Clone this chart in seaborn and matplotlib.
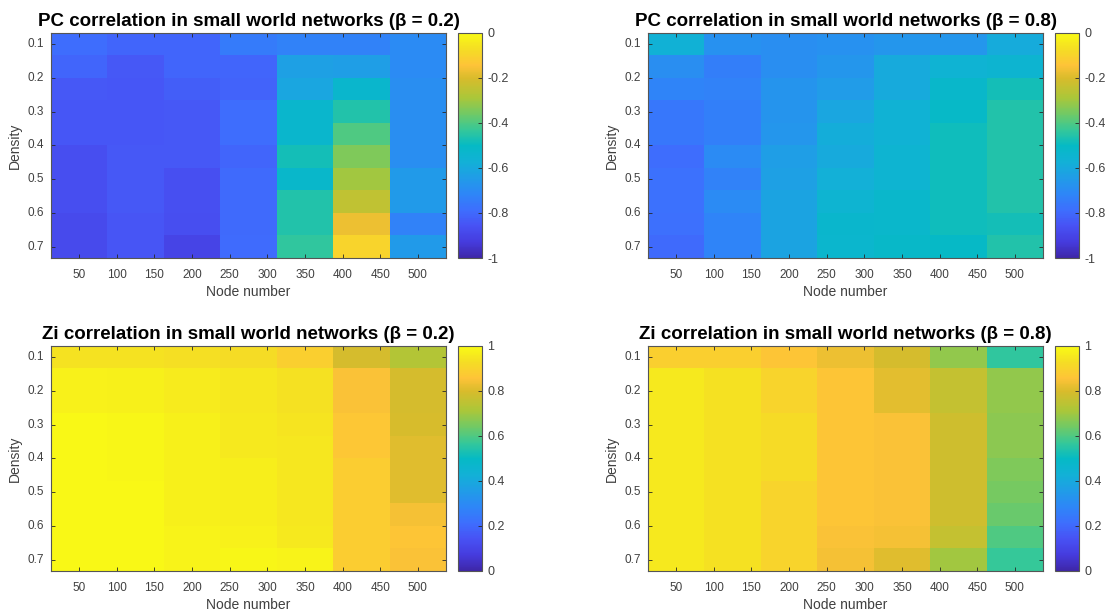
import numpy as np
import pandas as pd
import matplotlib
matplotlib.use('Agg')
import matplotlib.pyplot as plt
import seaborn as sns
from matplotlib.colors import LinearSegmentedColormap

nodes = [50, 125, 200, 275, 350, 425, 500]
density = [0.1, 0.1667, 0.2333, 0.3, 0.3667, 0.4333, 0.5, 0.5667, 0.6333, 0.7]
node_ticks = [50, 100, 150, 200, 250, 300, 350, 400, 450, 500]
density_ticks = [0.1, 0.2, 0.3, 0.4, 0.5, 0.6, 0.7]

# rows = density (0.1 -> 0.7), columns = node number
pc_b02 = [
    [-0.79, -0.81, -0.81, -0.75, -0.73, -0.73, -0.70],
    [-0.81, -0.84, -0.81, -0.81, -0.63, -0.64, -0.70],
    [-0.84, -0.845, -0.825, -0.815, -0.61, -0.53, -0.69],
    [-0.845, -0.845, -0.84, -0.79, -0.53, -0.46, -0.69],
    [-0.845, -0.845, -0.84, -0.79, -0.53, -0.40, -0.69],
    [-0.87, -0.84, -0.84, -0.81, -0.48, -0.34, -0.69],
    [-0.87, -0.84, -0.865, -0.80, -0.52, -0.30, -0.65],
    [-0.87, -0.84, -0.865, -0.80, -0.46, -0.25, -0.65],
    [-0.88, -0.85, -0.87, -0.80, -0.46, -0.17, -0.73],
    [-0.88, -0.85, -0.90, -0.795, -0.44, -0.10, -0.65],
]
pc_b08 = [
    [-0.57, -0.68, -0.69, -0.68, -0.665, -0.665, -0.59],
    [-0.69, -0.74, -0.69, -0.665, -0.595, -0.555, -0.545],
    [-0.72, -0.73, -0.67, -0.645, -0.595, -0.52, -0.48],
    [-0.76, -0.735, -0.67, -0.61, -0.56, -0.51, -0.46],
    [-0.76, -0.735, -0.665, -0.585, -0.56, -0.485, -0.46],
    [-0.79, -0.70, -0.64, -0.595, -0.55, -0.485, -0.46],
    [-0.78, -0.73, -0.63, -0.575, -0.55, -0.485, -0.46],
    [-0.78, -0.70, -0.62, -0.55, -0.525, -0.485, -0.46],
    [-0.785, -0.72, -0.62, -0.53, -0.525, -0.485, -0.48],
    [-0.80, -0.72, -0.62, -0.535, -0.515, -0.505, -0.46],
]
zi_b02 = [
    [0.94, 0.94, 0.93, 0.925, 0.89, 0.79, 0.73],
    [0.975, 0.97, 0.96, 0.95, 0.935, 0.85, 0.79],
    [0.975, 0.97, 0.96, 0.95, 0.935, 0.85, 0.79],
    [0.99, 0.985, 0.97, 0.955, 0.945, 0.865, 0.795],
    [0.99, 0.985, 0.97, 0.955, 0.95, 0.865, 0.81],
    [0.99, 0.985, 0.97, 0.965, 0.95, 0.88, 0.81],
    [0.99, 0.99, 0.97, 0.965, 0.95, 0.88, 0.81],
    [0.99, 0.99, 0.97, 0.965, 0.95, 0.88, 0.84],
    [0.99, 0.99, 0.98, 0.975, 0.955, 0.88, 0.86],
    [0.99, 0.99, 0.98, 0.985, 0.98, 0.88, 0.85],
]
zi_b08 = [
    [0.89, 0.89, 0.86, 0.83, 0.79, 0.68, 0.56],
    [0.955, 0.935, 0.90, 0.86, 0.815, 0.76, 0.68],
    [0.955, 0.935, 0.90, 0.86, 0.815, 0.76, 0.68],
    [0.955, 0.935, 0.92, 0.86, 0.85, 0.78, 0.675],
    [0.955, 0.935, 0.92, 0.86, 0.85, 0.78, 0.675],
    [0.955, 0.935, 0.92, 0.86, 0.85, 0.78, 0.66],
    [0.955, 0.935, 0.90, 0.86, 0.85, 0.78, 0.645],
    [0.955, 0.935, 0.90, 0.86, 0.85, 0.78, 0.63],
    [0.955, 0.935, 0.90, 0.85, 0.84, 0.76, 0.60],
    [0.955, 0.935, 0.90, 0.84, 0.81, 0.70, 0.57],
]

# approximate matlab parula
parula = LinearSegmentedColormap.from_list('parula', [
    (0.0, (0.2422, 0.1504, 0.6603)),
    (0.07, (0.2717, 0.2330, 0.8700)),
    (0.143, (0.2810, 0.3228, 0.9579)),
    (0.21, (0.2420, 0.4300, 0.9950)),
    (0.286, (0.1786, 0.5289, 0.9682)),
    (0.357, (0.1250, 0.6150, 0.9050)),
    (0.429, (0.0689, 0.6948, 0.8394)),
    (0.50, (0.0200, 0.7300, 0.7700)),
    (0.571, (0.2161, 0.7843, 0.5923)),
    (0.643, (0.4500, 0.7900, 0.3900)),
    (0.714, (0.6720, 0.7793, 0.2227)),
    (0.80, (0.8500, 0.7350, 0.1700)),
    (0.857, (0.9970, 0.7659, 0.2199)),
    (0.93, (0.9600, 0.8700, 0.1400)),
    (1.0, (0.9769, 0.9839, 0.0805)),
])

plt.rcParams['font.family'] = ['Liberation Sans', 'DejaVu Sans']
fig = plt.figure(figsize=(11.07, 6.12), dpi=100)

panels = [
    (pc_b02, 'PC correlation in small world networks (β = 0.2)', -1, 0, 0.0461, 0.5784),
    (pc_b08, 'PC correlation in small world networks (β = 0.8)', -1, 0, 0.5854, 0.5784),
    (zi_b02, 'Zi correlation in small world networks (β = 0.2)', 0, 1, 0.0461, 0.0670),
    (zi_b08, 'Zi correlation in small world networks (β = 0.8)', 0, 1, 0.5854, 0.0670),
]

txt = '#262626'
for vals, title, vmin, vmax, x0, y0 in panels:
    ax = fig.add_axes([x0, y0, 0.3568, 0.368])
    cax = fig.add_axes([x0 + 0.3676, y0, 0.0217, 0.368])
    df = pd.DataFrame(vals, index=density, columns=nodes)
    sns.heatmap(df, ax=ax, cbar_ax=cax, cmap=parula, vmin=vmin, vmax=vmax)
    ax.set_xticks([0.5 + (v - 50) / 75 for v in node_ticks])
    ax.set_xticklabels([str(v) for v in node_ticks], rotation=0)
    ax.set_yticks([0.5 + (d - 0.1) / (0.6 / 9) for d in density_ticks])
    ax.set_yticklabels([f'{d:.1f}' for d in density_ticks], rotation=0)
    ax.tick_params(direction='in', top=True, right=True, length=3, width=0.6,
                   color=txt, labelsize=8.5, labelcolor='#404040')
    ax.tick_params(axis='x', pad=8)
    ax.tick_params(axis='y', pad=5)
    for s in ax.spines.values():
        s.set_visible(True)
        s.set_color('#555555')
        s.set_linewidth(0.8)
    ax.set_xlabel('Node number', fontsize=10, color='#404040', labelpad=3)
    ax.set_ylabel('Density', fontsize=10, color='#404040', labelpad=4)
    ax.set_title(title, fontsize=13.5, fontweight='bold', pad=5)
    cb = ax.collections[0].colorbar
    cb.outline.set_visible(True)
    cb.outline.set_edgecolor('#555555')
    cb.outline.set_linewidth(0.8)
    ticks = np.linspace(vmin, vmax, 6)
    cb.set_ticks(ticks)
    cb.set_ticklabels([f'{t:g}' for t in ticks])
    cax.tick_params(direction='in', length=3, width=0.6, color=txt, labelsize=9,
                    labelcolor='#404040', pad=4)

fig.savefig('out.png', dpi=100)
